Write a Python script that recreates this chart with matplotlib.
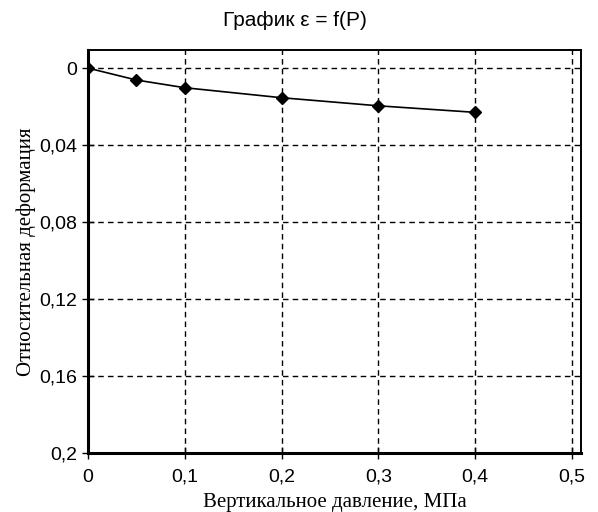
import matplotlib
matplotlib.use("Agg")
import matplotlib.pyplot as plt
from matplotlib.ticker import FuncFormatter

pressure = [0, 0.05, 0.1, 0.2, 0.3, 0.4]
strain = [0, 0.0062, 0.0102, 0.0154, 0.0196, 0.023]
x_ticks = [0, 0.1, 0.2, 0.3, 0.4, 0.5]
y_ticks = [0, 0.04, 0.08, 0.12, 0.16, 0.2]


def comma(v, pos):
    s = f"{v:g}"
    return s.replace(".", ",")


fig = plt.figure(figsize=(5.98, 5.12), dpi=100)
# axes box: x 88..581 px, y 50..453 px
ax = fig.add_axes([88 / 598, 1 - 453 / 512, 493 / 598, 403 / 512])

ax.plot(pressure, strain, color="black", lw=1.2, marker="D", ms=6,
        mfc="black", mec="black", zorder=3)

ax.set_xlim(0, 0.5093)
ax.set_ylim(0.2, -0.0094)
ax.set_xticks(x_ticks)
ax.set_yticks(y_ticks)
ax.xaxis.set_major_formatter(FuncFormatter(comma))
ax.yaxis.set_major_formatter(FuncFormatter(comma))
ax.grid(True, color="black", linestyle=(0, (4, 3)), lw=1.0)

ax.spines["left"].set_linewidth(2.2)
ax.spines["bottom"].set_linewidth(2.2)
ax.spines["top"].set_linewidth(1.4)
ax.spines["right"].set_linewidth(1.4)
ax.tick_params(labelsize=14, length=9, width=1, direction="inout", pad=3)
ax.tick_params(axis="x", pad=7)
for lbl in ax.get_xticklabels() + ax.get_yticklabels():
    lbl.set_family("Liberation Sans")

ax.set_xlabel("Вертикальное давление, МПа", family="Liberation Serif",
              fontsize=15)
ax.xaxis.set_label_coords(0.5, -(503 - 453) / 403, transform=ax.transAxes)
ax.xaxis.label.set_va("center")
ax.set_ylabel("Относительная деформация", family="Liberation Serif",
              fontsize=15)
ax.yaxis.set_label_coords(-(88 - 26) / 493, 0.5, transform=ax.transAxes)
ax.yaxis.label.set_va("center")
fig.text(295 / 598, 1 - 20 / 512, "График ε = f(P)", family="Liberation Sans",
         fontsize=15, ha="center", va="center")

fig.savefig("out.png", dpi=100)
